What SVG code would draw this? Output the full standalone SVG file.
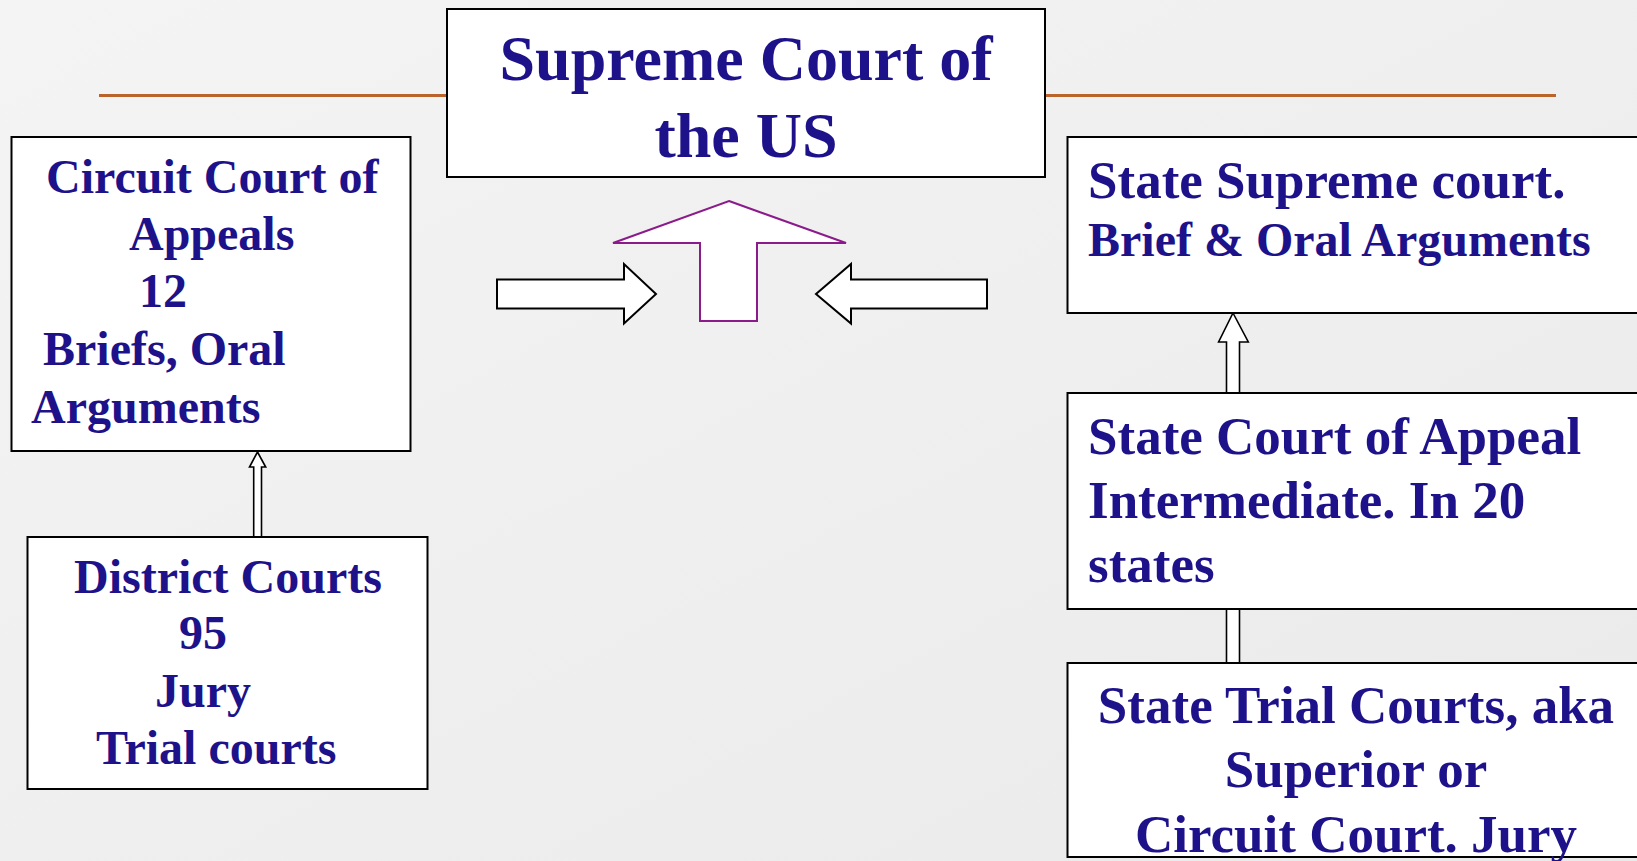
<svg xmlns="http://www.w3.org/2000/svg" width="1637" height="861" viewBox="0 0 1637 861">
  <defs>
    <linearGradient id="bg" x1="0" y1="0" x2="1" y2="1">
      <stop offset="0" stop-color="#F4F4F4"/>
      <stop offset="1" stop-color="#EAEAEA"/>
    </linearGradient>
    <style>
      .box { fill: #FFFFFF; stroke: #000000; stroke-width: 2; }
      .t { font-family: "Liberation Serif", "Times New Roman", serif; font-weight: bold; fill: #1E128A; }
      .conn { fill: #FFFFFF; stroke: #000000; stroke-width: 1.6; stroke-linejoin: miter; }
      .blk { fill: #FFFFFF; stroke: #000000; stroke-width: 2; }
      .up { fill: #FFFFFF; stroke: #8B1A8B; stroke-width: 2; }
    </style>
  </defs>
  <rect x="0" y="0" width="1637" height="861" fill="url(#bg)"/>
  <line x1="99" y1="95.5" x2="1556" y2="95.5" stroke="#BA642C" stroke-width="3"/>

  <g id="connectors">
    <polygon class="conn" points="257.5,452 265.7,467 261.5,467 261.5,537 253.7,537 253.7,467 249.5,467"/>
    <polygon class="conn" points="1233,313 1248.3,342 1239.5,342 1239.5,393 1226.5,393 1226.5,342 1218.6,342"/>
    <rect class="conn" x="1226.5" y="609" width="13" height="54"/>
    <polygon class="blk" points="497,279.5 624,279.5 624,264 656,294 624,323.5 624,308.5 497,308.5"/>
    <polygon class="blk" points="987,279.5 851,279.5 851,264 816,294 851,323.5 851,308.5 987,308.5"/>
    <polygon class="up" points="729,201 846,243 757,243 757,321 700,321 700,243 613,243"/>
  </g>

  <g id="supreme-court">
    <rect class="box" x="447" y="9" width="598" height="168"/>
    <text class="t" font-size="64" text-anchor="middle" x="746" y="80">Supreme Court of</text>
    <text class="t" font-size="64" text-anchor="middle" x="746" y="157">the US</text>
  </g>

  <g id="circuit-court">
    <rect class="box" x="11.5" y="137" width="399" height="314"/>
    <text class="t" font-size="48" x="46" y="193">Circuit Court of</text>
    <text class="t" font-size="48" x="129" y="250">Appeals</text>
    <text class="t" font-size="48" x="139" y="307">12</text>
    <text class="t" font-size="48" x="43" y="365">Briefs, Oral</text>
    <text class="t" font-size="48" x="31" y="423">Arguments</text>
  </g>

  <g id="district-courts">
    <rect class="box" x="27.5" y="537" width="400" height="252"/>
    <text class="t" font-size="48" x="74" y="593">District Courts</text>
    <text class="t" font-size="48" x="179" y="649">95</text>
    <text class="t" font-size="48" x="155" y="707">Jury</text>
    <text class="t" font-size="48" x="96" y="764">Trial courts</text>
  </g>

  <g id="state-supreme">
    <rect class="box" x="1067.5" y="137" width="600" height="176"/>
    <text class="t" font-size="53" x="1088" y="198">State Supreme court.</text>
    <text class="t" font-size="48" x="1088" y="256">Brief &amp; Oral Arguments</text>
  </g>

  <g id="state-appeal">
    <rect class="box" x="1067.5" y="393" width="600" height="216"/>
    <text class="t" font-size="53" x="1088" y="454">State Court of Appeal</text>
    <text class="t" font-size="53" x="1088" y="518">Intermediate. In 20</text>
    <text class="t" font-size="53" x="1088" y="582">states</text>
  </g>

  <g id="state-trial">
    <rect class="box" x="1067.5" y="663" width="600" height="194"/>
    <text class="t" font-size="53" text-anchor="middle" x="1356" y="723">State Trial Courts, aka</text>
    <text class="t" font-size="53" text-anchor="middle" x="1356" y="787">Superior or</text>
    <text class="t" font-size="53" text-anchor="middle" x="1356" y="852">Circuit Court. Jury</text>
  </g>
</svg>
